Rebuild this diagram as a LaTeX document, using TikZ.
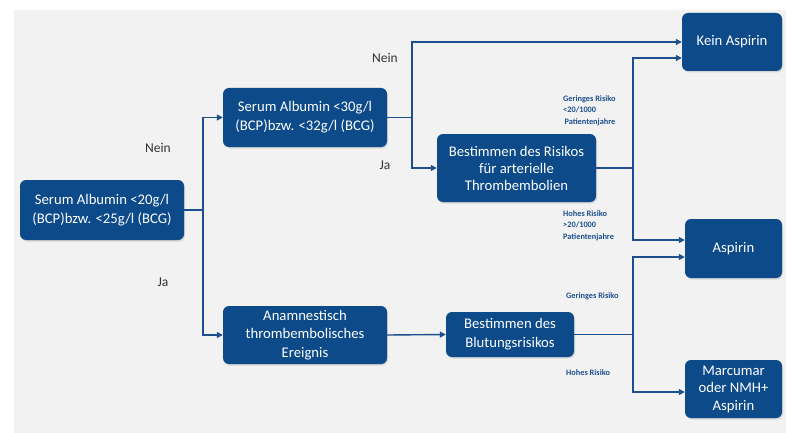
\documentclass[tikz,border=0pt]{standalone}
\usepackage{fontspec}
\setmainfont{Carlito}
\usetikzlibrary{arrows.meta,shadows}
\definecolor{boxblue}{HTML}{0C4A8A}
\definecolor{lineblue}{HTML}{1D4F8E}
\definecolor{panel}{HTML}{F2F2F2}
\definecolor{labelgray}{HTML}{333333}
\begin{document}
\begin{tikzpicture}[x=1pt,y=-1pt,
  box/.style={rectangle, rounded corners=6pt, fill=boxblue, text=white,
    font=\fontsize{14.7}{19}\selectfont, align=center, inner sep=0pt,
    drop shadow={opacity=0.25, shadow xshift=1pt, shadow yshift=-1.5pt}},
  conn/.style={draw=lineblue, line width=1.4pt},
  arr/.style={conn, -{Triangle[length=6pt,width=6pt]}},
  lab/.style={font=\fontsize{13.5}{15}\selectfont, text=labelgray, inner sep=0pt},
  small/.style={font=\bfseries\fontsize{8.3}{11.5}\selectfont, text=lineblue, align=left, inner sep=0pt}]
\useasboundingbox (0,0) rectangle (786,433);
\fill[white] (0,0) rectangle (786,433);
\fill[panel] (14,10) rectangle (786,433);

\node[box, minimum width=164pt, minimum height=60pt] (b1) at (102,210) {Serum Albumin <20g/l\\(BCP)bzw. <25g/l (BCG)};
\node[box, minimum width=164pt, minimum height=59pt] (b2) at (305,117.5) {Serum Albumin <30g/l\\(BCP)bzw. <32g/l (BCG)};
\node[box, minimum width=159pt, minimum height=68pt, font=\fontsize{14.7}{17}\selectfont] (b3) at (516.5,168) {Bestimmen des Risikos\\für arterielle\\Thrombembolien};
\node[box, minimum width=100pt, minimum height=58pt] (b4) at (732,42) {Kein Aspirin};
\node[box, minimum width=97pt, minimum height=59pt] (b5) at (733.5,248.5) {Aspirin};
\node[box, minimum width=164pt, minimum height=58pt, font=\fontsize{14.7}{18.5}\selectfont] (b6) at (305,335) {Anamnestisch\\thrombembolisches\\Ereignis};
\node[box, minimum width=128pt, minimum height=45pt] (b7) at (510,334.5) {Bestimmen des\\Blutungsrisikos};
\node[box, minimum width=97pt, minimum height=58pt, font=\fontsize{14.7}{17.5}\selectfont] (b8) at (733.5,389) {Marcumar\\oder NMH+\\Aspirin};

\coordinate (j1) at (203,210);
\coordinate (j2) at (412,117.5);
\coordinate (j3) at (633,168);
\coordinate (j4) at (633,334.5);

\draw[conn] (b1.east) -- (j1);
\draw[arr] (j1) |- (b2.west);
\draw[arr] (j1) |- (b6.west);
\draw[conn] (b2.east) -- (j2);
\draw[arr] (j2) |- (b4.west);
\draw[arr] (j2) |- (b3.west);
\draw[conn] (b3.east) -- (j3);
\draw[arr] (j3) |- ([yshift=-16pt]b4.west);
\draw[arr] (j3) |- ([yshift=8.5pt]b5.west);
\draw[arr] (b6.east) -- (b7.west);
\draw[conn] (b7.east) -- (j4);
\draw[arr] (j4) |- ([yshift=-8.5pt]b5.west);
\draw[arr] (j4) |- ([yshift=-3pt]b8.west);

\node[lab] (l1) at (158,148) {Nein};
\node[lab] (l2) at (163,282) {Ja};
\node[lab] (l3) at (385,58) {Nein};
\node[lab] (l4) at (385,165) {Ja};

\node[small, anchor=north west] (s1) at (563,95) {Geringes Risiko\\<20/1000\\\,Patientenjahre};
\node[small, anchor=north west] (s2) at (563,210) {Hohes Risiko\\>20/1000\\Patientenjahre};
\node[small, anchor=west] (s3) at (566,296) {Geringes Risiko};
\node[small, anchor=west] (s4) at (566,373) {Hohes Risiko};
\end{tikzpicture}
\end{document}
